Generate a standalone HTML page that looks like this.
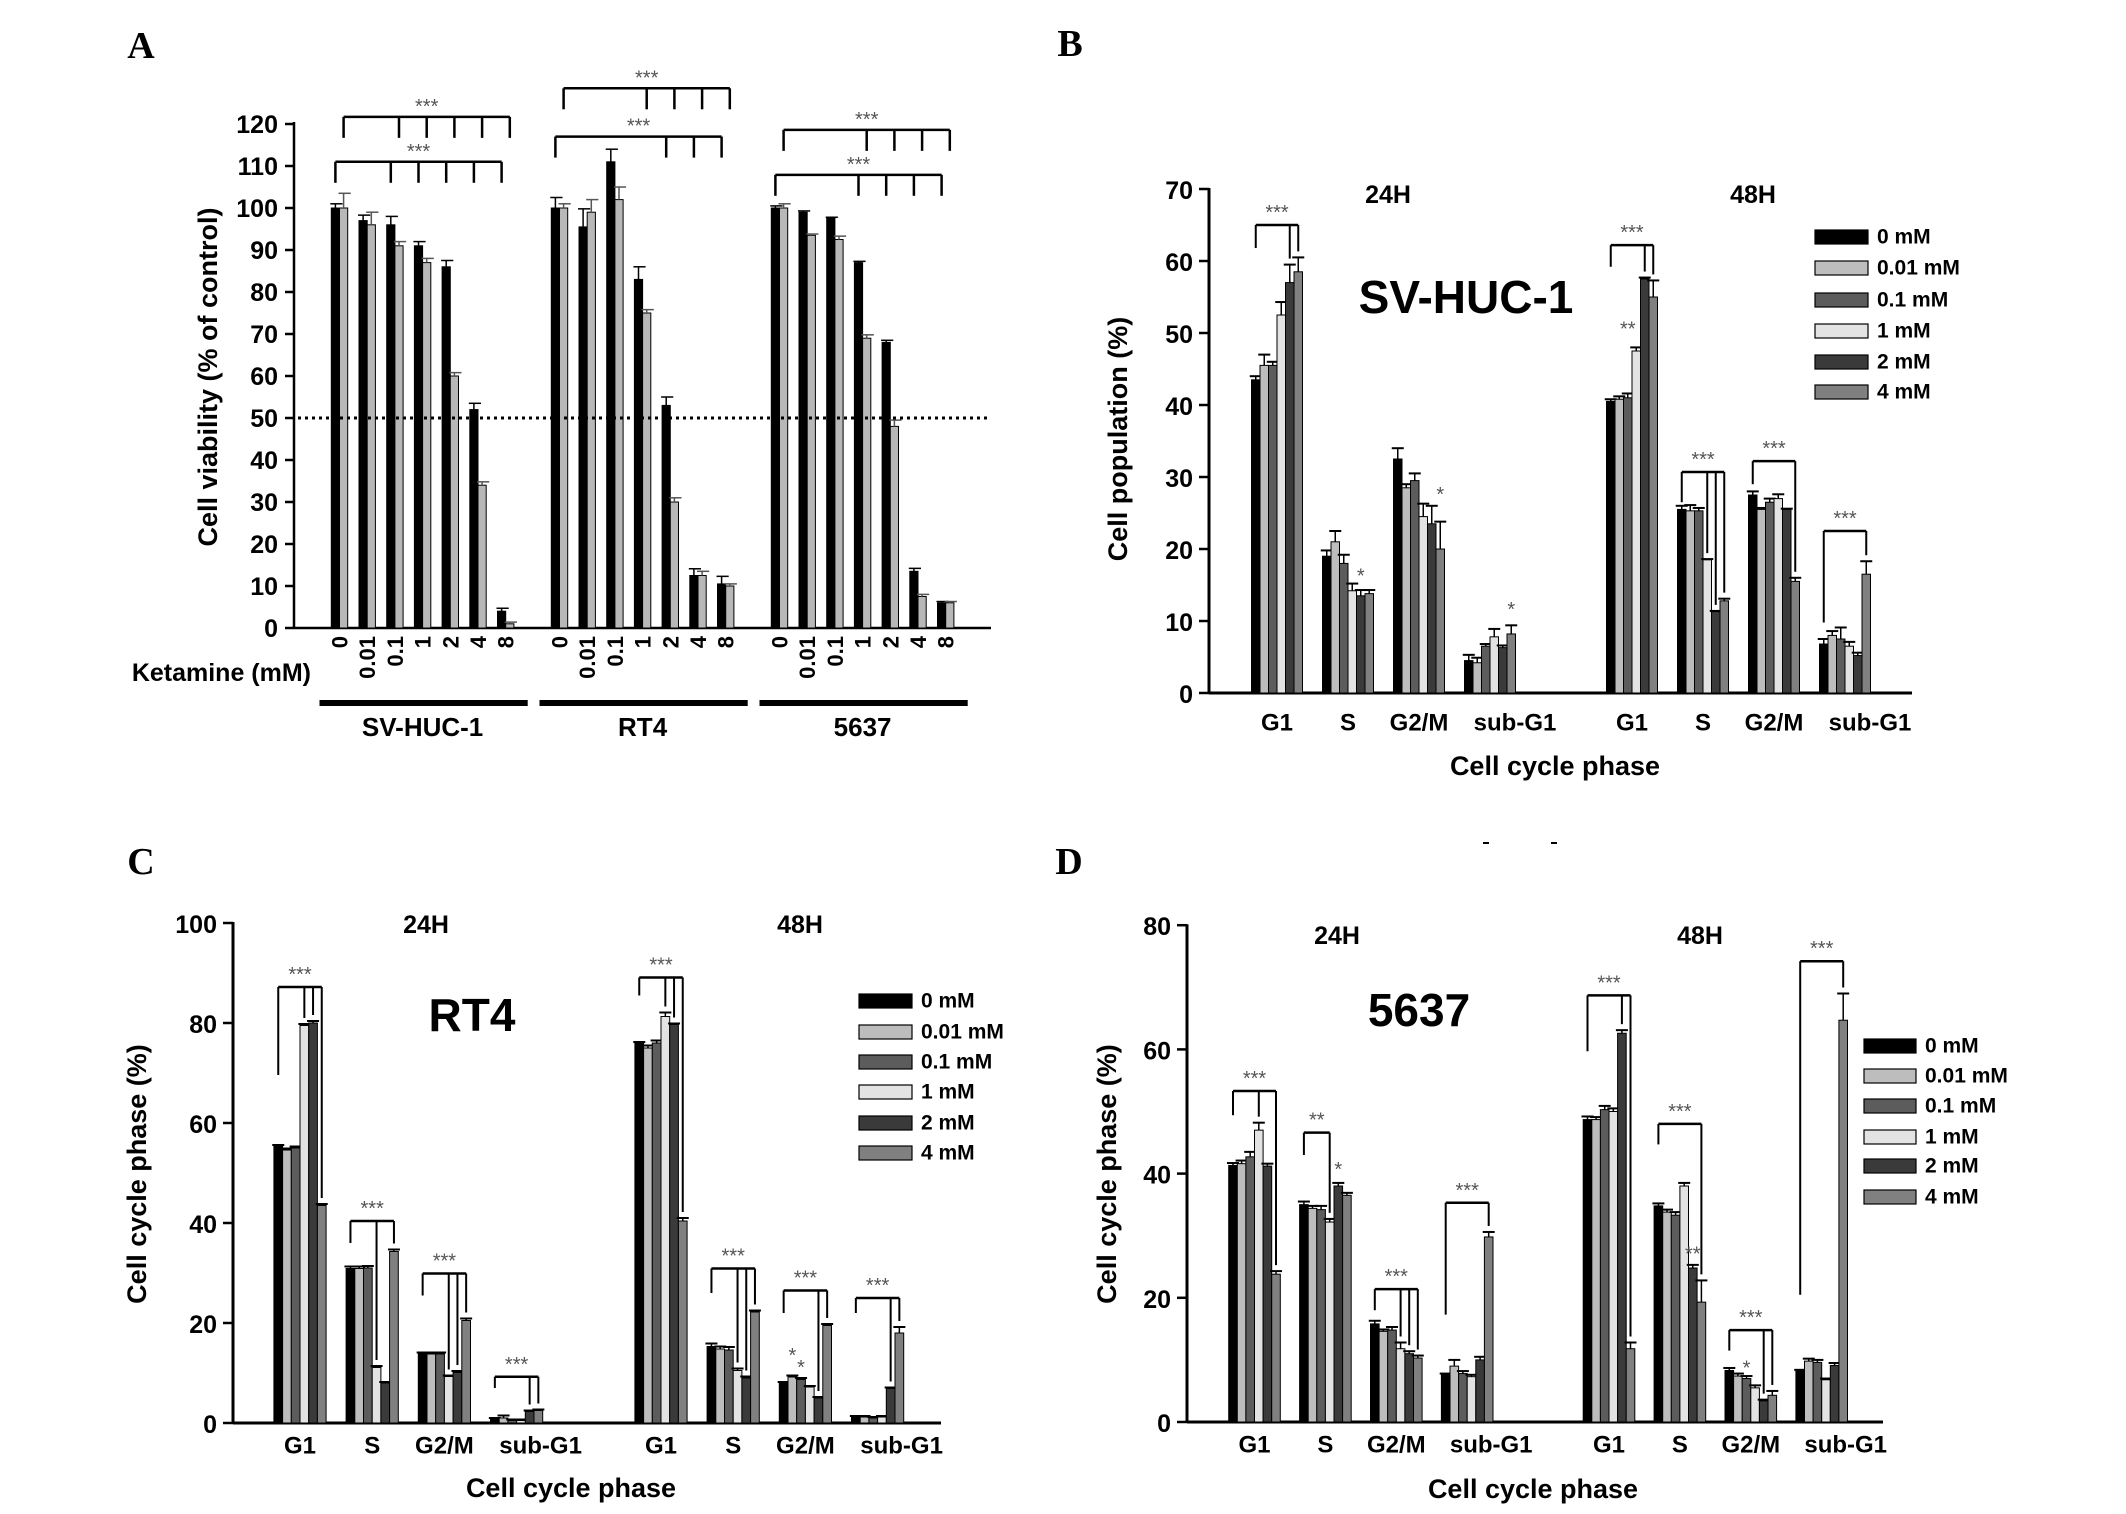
<!DOCTYPE html>
<html><head><meta charset="utf-8"><title>Ketamine cell viability and cell cycle</title>
<style>
html,body{margin:0;padding:0;background:#fff;}
svg{display:block;}
text{font-family:"Liberation Sans",Arial,sans-serif;font-weight:bold;fill:#000;}
text.serif{font-family:"Liberation Serif",serif;}
</style></head>
<body>
<svg id="fig" xmlns="http://www.w3.org/2000/svg" width="2126" height="1514" viewBox="0 0 2126 1514"></svg>
<script>
// ---------- Panel A data ----------
const aDoses = ['0','0.01','0.1','1','2','4','8'];
const aLines = ['SV-HUC-1','RT4','5637'];
const aBlack = [[100,97,96,91,86,52,4],[100,95.5,111,83,53,12.5,10.5],[100,99,97.5,87,68,13.5,6]];
const aGray = [[100,96,91,87,60,34,1],[100,99,102,75,30,12.5,10],[100,93.5,92.5,69,48,7.5,6]];
const aBlackErr = [[1,1.3,2,1,1.5,1.5,0.7],[2.5,4.3,3,3,2,1.6,1.8],[0.5,0.3,0.3,0.3,0.5,0.7,0.3]];
const aGrayErr = [[3.5,3,1,1,0.8,0.8,0.4],[1,3,3,0.8,1,1,0.5],[1,0.3,0.8,0.8,1.5,0.5,0.3]];
const aTicks = [0,10,20,30,40,50,60,70,80,90,100,110,120];
const aBrackets = [[0,121.7,'gray',[2,3,4,5,6]],[0,111,'black',[2,3,4,5,6]],
                   [1,128.5,'gray',[3,4,5,6]],[1,117,'black',[4,5,6]],
                   [2,118.6,'gray',[3,4,5,6]],[2,107.9,'black',[3,4,5,6]]];
const aThreshold = 50;

// ---------- Cell cycle shared ----------
const phases = ['G1','S','G2/M','sub-G1','G1','S','G2/M','sub-G1'];
const doseLegend = ['0 mM','0.01 mM','0.1 mM','1 mM','2 mM','4 mM'];

// ---------- Panel B data (SV-HUC-1) ----------
const bVals = [[43.5,45.5,45.5,52.5,57,58.5],[19,21,18,14.2,13.5,13.8],[32.5,28.5,29.5,24.5,23.5,20],[4.5,4.2,6.5,7.8,6.3,8.2],
               [40.5,40.8,41,47.5,57.5,55],[25.5,25.3,25.3,18.5,11.3,12.8],[27.5,25.5,26.5,27,25.5,15.5],[6.8,8,7.5,6.5,5.2,16.5]];
const bErrs = [[0.5,1.5,0.5,1.8,2.5,2],[0.8,1.5,1.2,1,0.8,0.5],[1.5,0.5,1,1.8,2.5,3.8],[0.8,0.7,0.3,1.1,0.3,1.2],
               [0.3,0.4,0.6,0.5,0.2,2.3],[0.5,0.8,0.4,0.1,0.1,0.3],[0.5,0.2,0.5,0.6,0.1,0.5],[0.7,0.6,1.6,0.6,0.4,1.8]];
const bTicks = [0,10,20,30,40,50,60,70];
const bBrackets = [[0,65,61.8,[4,5],'***'],[4,62.2,59.2,[4,5],'***'],[5,30.7,26.5,[3,4,5],'***'],[6,32.2,29,[5],'***'],[7,22.5,9.8,[5],'***']];
const bStars = [[1,4,16.2,'*'],[2,5,27.5,'*'],[3,5,11.5,'*'],[4,2,50.5,'**']];

// ---------- Panel C data (RT4) ----------
const cVals = [[55.3,54.6,55,79.5,80,43.5],[30.9,30.9,31,11.1,8,34.3],[13.8,13.8,13.8,9.3,10.1,20.5],[0.7,1.0,0.5,0.5,2.3,2.5],
               [76,75,76,81.3,79.7,40.4],[15.3,14.8,14.6,10.5,9,22.2],[8,9.2,8.7,7.2,5,19.5],[1.2,1.2,1.0,1.2,6.9,18]];
const cErrs = [[0.3,0.3,0.3,0.3,0.4,0.3],[0.4,0.4,0.4,0.3,0.2,0.4],[0.3,0.3,0.3,0.2,0.3,0.4],[0.3,0.5,0.2,0.2,0.2,0.2],
               [0.2,0.5,0.5,0.8,0.2,0.6],[0.6,0.5,0.6,0.4,0.3,0.3],[0.2,0.3,0.3,0.2,0.2,0.3],[0.2,0.2,0.2,0.2,0.2,1.2]];
const cTicks = [0,20,40,60,80,100];
const cBrackets = [[0,87.2,69.6,[3,4,5],'***'],[1,40.4,36,[3,5],'***'],[2,29.9,25.5,[3,4,5],'***'],[3,9.25,7,[4,5],'***'],
                   [4,89.1,85.5,[3,4,5],'***'],[5,30.9,26,[3,4,5],'***'],[6,26.5,22,[4,5],'***'],[7,25,22,[4,5],'***']];
const cStars = [[6,1,13.4,'*'],[6,2,11,'*']];

// ---------- Panel D data (5637) ----------
const dVals = [[41.3,41.6,42.7,47,41.2,23.8],[35,34.4,34.2,32.2,38,36.5],[15.8,14.6,14.8,11.8,11,10.3],[7.6,9,7.8,7.3,10,29.8],
               [48.7,48.7,50.3,50,62.6,11.8],[34.8,33.8,33.3,38,24.8,19.3],[8.3,7.4,7,5.5,3.4,4.3],[8.2,9.8,9.6,6.8,9.1,64.7]];
const dErrs = [[0.4,0.5,0.8,1.2,0.4,0.5],[0.5,0.4,0.6,0.5,0.5,0.4],[0.5,0.3,0.5,1,0.4,0.4],[0.2,1,0.4,0.3,0.5,0.8],
               [0.5,0.4,0.6,0.5,0.5,1],[0.4,0.4,0.5,0.5,0.5,3.5],[0.4,0.4,0.4,0.4,0.2,0.7],[0.2,0.4,0.4,0.2,0.4,4.3]];
const dTicks = [0,20,40,60,80];
const dBrackets = [[0,53.3,49.4,[3,5],'***'],[1,46.6,43,[3],'**'],[2,21.4,18,[3,4,5],'***'],[3,35.3,17.3,[5],'***'],
                   [4,68.7,59.7,[4,5],'***'],[5,48,44.7,[5],'***'],[6,14.8,11.5,[4,5],'***'],[7,74.2,20.5,[5],'***']];
const dStars = [[1,4,40.6,'*'],[5,4,27,'**'],[6,2,8.6,'*']];

// ---------- drawing ----------
const NS = 'http://www.w3.org/2000/svg';
const svg = document.getElementById('fig');
const barColors = ['#000000','#bdbdbd','#5c5c5c','#e3e3e3','#3a3a3a','#808080'];

function mk(tag, attrs, parent) {
  const e = document.createElementNS(NS, tag);
  for (const k in attrs) e.setAttribute(k, attrs[k]);
  (parent || svg).appendChild(e);
  return e;
}
function line(x1,y1,x2,y2,w,parent,extra){
  const a = {x1:x1,y1:y1,x2:x2,y2:y2,stroke:'#000','stroke-width':w};
  if (extra) for (const k in extra) a[k]=extra[k];
  return mk('line',a,parent);
}
function txt(x,y,s,size,anchor,parent,extra){
  const a = {x:x,y:y,'font-size':size,'text-anchor':anchor||'middle','dominant-baseline':'central'};
  if (extra) for (const k in extra) a[k]=extra[k];
  const t = mk('text',a,parent);
  t.textContent = s;
  return t;
}
const starStyle = {style:'fill:#555;font-weight:normal'};

// Panel letters
[['A',141,46],['B',1070,44],['C',141,862],['D',1069,862]].forEach(function(p){
  const t = txt(p[1],p[2],p[0],38,'middle',svg,{'class':'serif'});
  
  
});

// ===== Panel A =====
(function(){
  const g = mk('g',{});
  
  
  const X0=294, Y0=628, PPU=4.2, XEND=991, BW=8.2;
  const yA = function(v){return Y0 - v*PPU;};
  const xA = function(li,di){return 339.5 + li*220 + di*27.7;};
  const ya = line(X0, yA(120)-2, X0, Y0, 2.5, g);
  
  
  const xa = line(X0, Y0, XEND, Y0, 2.5, g);
  
  
  aTicks.forEach(function(t){
    const tk = line(X0-9, yA(t), X0, yA(t), 2.5, g);
    
    
    const tl = txt(X0-16, yA(t)+1, String(t), 25, 'end', g);
    
    
  });
  const yt = txt(208, 377, 'Cell viability (% of control)', 27, 'middle', g, {transform:'rotate(-90 208 377)'});
  
  
  aLines.forEach(function(name, li){
    aDoses.forEach(function(d, di){
      const c = xA(li, di);
      [[aBlack,aBlackErr,'#000',c-BW],[aGray,aGrayErr,'#b8b8b8',c]].forEach(function(s, si){
        const v = s[0][li][di], e = s[1][li][di];
        const bx = s[3];
        const r = mk('rect',{x:bx,y:yA(v),width:BW,height:Y0-yA(v),fill:s[2],stroke:'#000','stroke-width':1},g);
        
        
        const eb = line(bx+BW/2, yA(v), bx+BW/2, yA(v+e), 1.5, g, {stroke: si===0?'#000':'#555'});
        
        
        const cap = line(bx-1, yA(v+e), bx+BW+3, yA(v+e), 1.5, g, {stroke: si===0?'#000':'#555'});
        
        
      });
      const dl = txt(c+8, 636, d, 22, 'end', g, {transform:'rotate(-90 '+(c+8)+' 636)','dominant-baseline':'auto'});
      
      
    });
    const gl = line(xA(li,0)-20, 703, xA(li,6)+22, 703, 6, g);
    
    
    const gt = txt((xA(li,0)+xA(li,6))/2, 727, name, 26, 'middle', g);
    
    
  });
  const km = txt(311, 673, 'Ketamine (mM)', 25, 'end', g);
  
  
  const th = line(X0+4, yA(aThreshold), XEND, yA(aThreshold), 3, g, {'stroke-dasharray':'3 4'});
  
  
  aBrackets.forEach(function(b){
    const li=b[0], yv=yA(b[1]), off = b[2]==='gray' ? BW/2 : -BW/2;
    const xl = xA(li,0)+off, xr = xA(li,b[3][b[3].length-1])+off;
    const hl = line(xl, yv, xr, yv, 2.5, g);
    
    
    const ld = line(xl, yv, xl, yv+21, 2.5, g);
    
    
    b[3].forEach(function(di){
      const x = xA(li,di)+off;
      const td = line(x, yv, x, yv+21, 2.5, g);
      
      
    });
    const st = txt((xl+xr)/2, yv-10, '***', 20, 'middle', g, starStyle);
    
    
  });
})();

// ===== Cell cycle panels =====
function drawCycle(cfg, vals, errs, ticks, brackets, stars){
  const g = mk('g',{});
  
  
  const yS = function(v){return cfg.y0 - v*cfg.ppu;};
  const center = function(gi){return cfg.c0 + (gi<4?gi:gi+1)*cfg.sp;};
  const barX = function(gi,i){return center(gi) - 3*cfg.bw + i*cfg.bw;};
  const top = ticks[ticks.length-1];
  const ya = line(cfg.x0, yS(top)-1, cfg.x0, cfg.y0, 3, g);
  
  
  const xa = line(cfg.x0, cfg.y0, cfg.xEnd, cfg.y0, 3, g);
  
  
  ticks.forEach(function(t){
    const tk = line(cfg.x0-10, yS(t), cfg.x0, yS(t), 2.5, g);
    
    
    const tl = txt(cfg.x0-16, yS(t)+2, String(t), 25, 'end', g);
    
    
  });
  vals.forEach(function(gv, gi){
    gv.forEach(function(v, i){
      const x = barX(gi,i), e = errs[gi][i];
      const r = mk('rect',{x:x,y:yS(v),width:cfg.bw,height:cfg.y0-yS(v),fill:barColors[i],stroke:'#000','stroke-width':1},g);
      
      
      const eb = line(x+cfg.bw/2, yS(v), x+cfg.bw/2, yS(v+e), 1.5, g);
      
      
      const cap = line(x+cfg.bw/2-6, yS(v+e), x+cfg.bw/2+6, yS(v+e), 2, g);
      
      
    });
    const lx = center(gi) + (phases[gi]==='sub-G1' ? cfg.subOff : 0);
    const pl = txt(lx, cfg.labY, phases[gi], 24, 'middle', g);
    
    
  });
  brackets.forEach(function(b){
    const gi=b[0], yv=yS(b[1]);
    const xl = barX(gi,0)+cfg.bw/2;
    const last = b[3][b[3].length-1];
    const xr = barX(gi,last)+cfg.bw/2;
    const hl = line(xl, yv, xr, yv, 2.5, g);
    
    
    const ld = line(xl, yv, xl, yS(b[2]), 2, g);
    
    
    b[3].forEach(function(i){
      const x = barX(gi,i)+cfg.bw/2;
      const bt = yS(vals[gi][i]+errs[gi][i]) - 6;
      const td = line(x, yv, x, Math.max(bt, yv+14), 2, g);
      
      
    });
    const st = txt((xl+xr)/2, yv-12, b[4], 20, 'middle', g, starStyle);
    
    
  });
  stars.forEach(function(s){
    const st = txt(barX(s[0],s[1])+cfg.bw/2, yS(s[2]), s[3], 20, 'middle', g, starStyle);
    
    
  });
  const yt = txt(cfg.ytX, cfg.ytY, cfg.yTitle, 27, 'middle', g, {transform:'rotate(-90 '+cfg.ytX+' '+cfg.ytY+')'});
  
  
  const xt = txt(cfg.xtX, cfg.xtY, 'Cell cycle phase', 27, 'middle', g);
  
  
  const h24 = txt(cfg.h24X, cfg.hY, '24H', 25, 'middle', g);
  
  
  const h48 = txt(cfg.h48X, cfg.hY, '48H', 25, 'middle', g);
  
  
  const ttl = txt(cfg.tX, cfg.tY, cfg.title, 46, 'middle', g);
  
  
  doseLegend.forEach(function(d, i){
    const y = cfg.legY[i];
    const sw = mk('rect',{x:cfg.legX, y:y-7, width:cfg.legW, height:14, fill:barColors[i], stroke:'#000','stroke-width':1.2}, g);
    
    
    const lt = txt(cfg.legX+cfg.legW+9, y, d, 21, 'start', g);
    
    
  });
}

drawCycle({name:'panel-b-sv-huc-1-cell-cycle', x0:1209, y0:693, ppu:7.2, xEnd:1912, c0:1277, sp:71, bw:8.5, subOff:25, labY:723,
  ytX:1118, ytY:439, yTitle:'Cell population (%)', xtX:1555, xtY:766, h24X:1388, h48X:1753, hY:195,
  tX:1466, tY:297, title:'SV-HUC-1', legX:1815, legW:53, legY:[237,268,300,331,362,392]},
  bVals, bErrs, bTicks, bBrackets, bStars);

drawCycle({name:'panel-c-rt4-cell-cycle', x0:233, y0:1423, ppu:5, xEnd:941, c0:300, sp:72.2, bw:8.7, subOff:24, labY:1446,
  ytX:137, ytY:1174, yTitle:'Cell cycle phase (%)', xtX:571, xtY:1488, h24X:426, h48X:800, hY:925,
  tX:472, tY:1015, title:'RT4', legX:859, legW:53, legY:[1001,1032,1062,1092,1123,1153]},
  cVals, cErrs, cTicks, cBrackets, cStars);

drawCycle({name:'panel-d-5637-cell-cycle', x0:1187, y0:1422, ppu:6.21, xEnd:1883, c0:1254.5, sp:70.9, bw:8.6, subOff:24, labY:1445,
  ytX:1107, ytY:1174, yTitle:'Cell cycle phase (%)', xtX:1533, xtY:1489, h24X:1337, h48X:1700, hY:936,
  tX:1419, tY:1010, title:'5637', legX:1864, legW:52, legY:[1046,1076,1106,1137,1166,1197]},
  dVals, dErrs, dTicks, dBrackets, dStars);

[1486,1554].forEach(function(x){
  const m = line(x-3, 843, x+3, 843, 2, svg);
  
  
});
</script>
</body></html>
